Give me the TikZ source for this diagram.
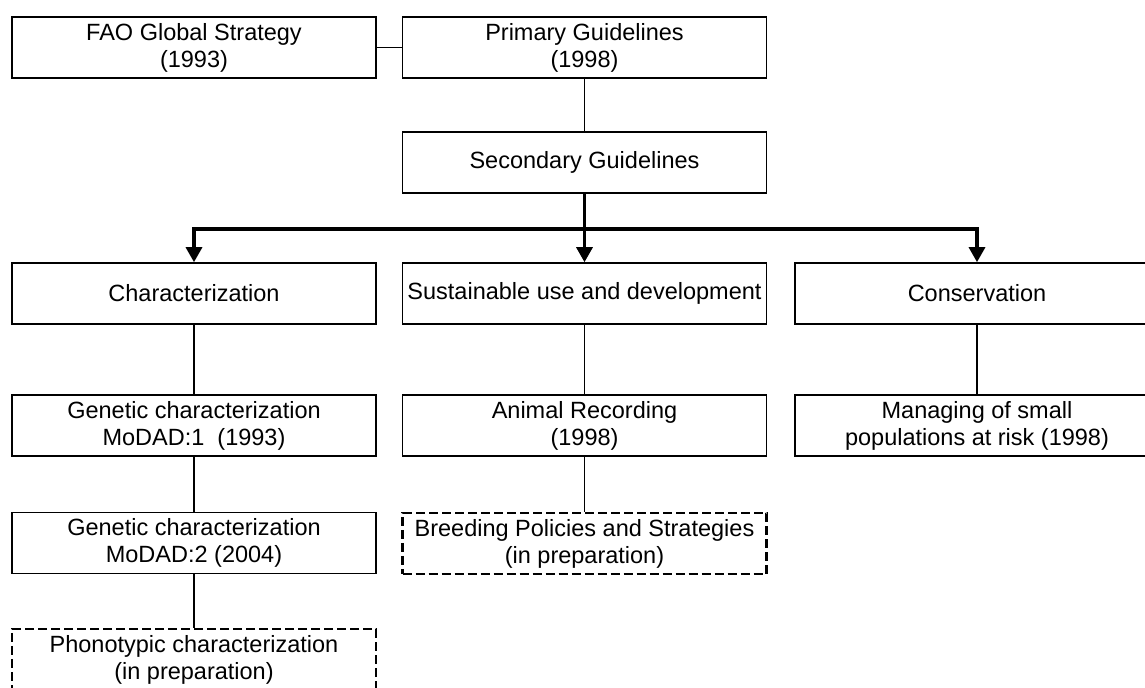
\documentclass[tikz,border=0pt]{standalone}
\usepackage{fontspec}
\setmainfont{Liberation Sans}
\usetikzlibrary{arrows.meta}

\begin{document}
\begin{tikzpicture}[x=0.5pt, y=-0.5pt, line width=0.8pt, >={Triangle[length=7.5pt, width=8pt]},
    box/.style={rectangle, draw, minimum width=182pt, minimum height=30.5pt, align=center, inner sep=1pt, font=\fontsize{11.75pt}{13.5pt}\selectfont},
    prep/.style={box, line width=1.2pt, dash pattern=on 4.5pt off 2pt},
    bus/.style={line width=1.6pt}]

    \useasboundingbox (0,0) rectangle (1145,688);

    \node[box] (fao) at (194,47.5) {FAO Global Strategy\\(1993)};
    \node[box] (prim) at (584.5,47.5) {Primary Guidelines\\(1998)};
    \node[box] (sec) at (584.5,162.5) {Secondary Guidelines};
    \node[box] (char) at (194,293.5) {Characterization};
    \node[box] (sust) at (584.5,293.5) {Sustainable use and development};
    \node[box] (cons) at (977,293.5) {Conservation};
    \node[box] (gen1) at (194,425.5) {Genetic characterization\\MoDAD:1\ \ (1993)};
    \node[box] (anim) at (584.5,425.5) {Animal Recording\\(1998)};
    \node[box] (small) at (977,425.5) {Managing of small\\populations at risk (1998)};
    \node[box] (gen2) at (194,543) {Genetic characterization\\MoDAD:2 (2004)};
    \node[prep] (breed) at (584.5,543.5) {Breeding Policies and Strategies\\(in preparation)};
    \node[prep] (pheno) at (194,659.5) {Phonotypic characterization\\(in preparation)};

    \coordinate (jl) at (194,229);
    \coordinate (jm) at (584.5,229);
    \coordinate (jr) at (977,229);

    \draw[bus, line cap=rect] (jl) -- (jr);
    \draw[bus] (sec) -- (jm);
    \draw[bus, ->] (jl) -- (char);
    \draw[bus, ->] (jm) -- (sust);
    \draw[bus, ->] (jr) -- (cons);

\path
        (fao) edge (prim)
        (prim) edge (sec)
        (char) edge (gen1)
        (gen1) edge (gen2)
        (gen2) edge (pheno)
        (sust) edge (anim)
        (anim) edge (breed)
        (cons) edge (small)
;
\end{tikzpicture}
\end{document}
